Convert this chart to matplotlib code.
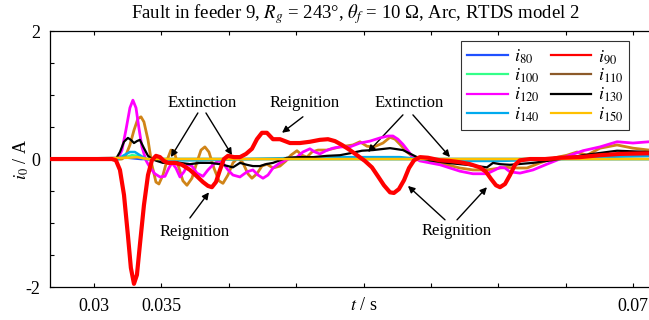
import numpy as np
import matplotlib
matplotlib.use('Agg')
import matplotlib.pyplot as plt
from matplotlib.lines import Line2D

plt.rcParams['font.family'] = ['Liberation Serif', 'DejaVu Serif']
plt.rcParams['mathtext.fontset'] = 'stix'

# zero-sequence currents of feeders 80..150, time in ms, current in A
t80_ms = [26.74, 32.5, 33.5, 71.17]
i80 = [0, 0.02, 0, 0]

t90_ms = [26.74, 31.34, 31.63, 31.93, 32.23, 32.52, 32.74, 32.97, 33.19, 33.41,
          33.71, 34.01, 34.30, 34.60, 34.90, 35.19, 35.49, 36.01, 36.53, 37.12,
          37.64, 38.09, 38.46, 38.75, 39.05, 39.35, 39.64, 39.94, 40.39, 40.83,
          41.28, 41.72, 42.09, 42.46, 42.83, 43.28, 43.80, 44.54, 45.28, 46.02,
          46.76, 47.36, 47.88, 48.40, 48.99, 49.58, 50.10, 50.62, 51.07, 51.51,
          51.96, 52.25, 52.62, 53.00, 53.37, 53.74, 54.18, 54.78, 55.67, 56.41,
          57.15, 57.89, 58.63, 59.08, 59.45, 59.82, 60.12, 60.49, 60.86, 61.23,
          61.60, 62.34, 63.46, 64.57, 66.05, 67.54, 69.02, 71.17]
i90 = [0, 0, -0.02, -0.17, -0.56, -1.19, -1.70, -1.95, -1.81, -1.34,
       -0.72, -0.25, -0.02, 0.05, 0.03, -0.03, -0.06, -0.06, -0.09, -0.17,
       -0.27, -0.36, -0.42, -0.44, -0.36, -0.17, 0, 0.05, 0.03, 0.03,
       0.08, 0.16, 0.31, 0.41, 0.41, 0.31, 0.31, 0.25, 0.25, 0.27,
       0.30, 0.31, 0.28, 0.22, 0.14, 0.05, -0.03, -0.13, -0.27, -0.41,
       -0.52, -0.53, -0.47, -0.33, -0.14, -0.02, 0.03, 0.02, -0.02, -0.03,
       -0.05, -0.08, -0.13, -0.20, -0.31, -0.41, -0.44, -0.39, -0.25, -0.09,
       -0.02, 0, 0, 0.02, 0.03, 0.06, 0.08, 0.09]

t100_ms = [26.74, 31.93, 32.37, 32.82, 33.26, 33.78, 71.17]
i100 = [0, 0, 0.03, 0.06, 0.05, 0, 0]

t110_ms = [26.74, 32.08, 32.37, 32.67, 32.97, 33.26, 33.49, 33.71, 34.01, 34.30,
           34.60, 34.82, 35.12, 35.42, 35.71, 35.93, 36.23, 36.60, 36.90, 37.27,
           37.64, 37.94, 38.23, 38.53, 38.90, 39.27, 39.57, 39.94, 40.31, 40.68,
           41.05, 41.42, 41.72, 42.09, 42.46, 42.83, 43.28, 43.80, 44.24, 44.61,
           45.06, 45.43, 45.80, 46.17, 46.62, 47.28, 48.25, 49.21, 49.73, 50.25,
           50.77, 51.44, 51.96, 52.33, 52.70, 53.22, 53.74, 54.55, 56.19, 57.15,
           58.11, 59.15, 60.12, 60.64, 61.38, 62.12, 63.08, 64.20, 65.09, 65.83,
           66.57, 67.54, 68.80, 69.98, 71.17]
i110 = [0, 0, 0.06, 0.22, 0.45, 0.63, 0.66, 0.58, 0.30, -0.09,
        -0.36, -0.39, -0.25, -0.02, 0.14, 0.13, -0.09, -0.34, -0.41, -0.30,
        -0.05, 0.14, 0.19, 0.11, -0.14, -0.34, -0.38, -0.25, -0.06, 0.02,
        -0.06, -0.23, -0.30, -0.23, -0.11, -0.08, -0.14, -0.11, -0.03, 0.06,
        0.13, 0.06, 0.03, 0.11, 0.14, 0.14, 0.19, 0.22, 0.27, 0.20,
        0.19, 0.25, 0.34, 0.31, 0.23, 0.11, 0.02, -0.03, -0.09, -0.14,
        -0.17, -0.17, -0.14, -0.13, -0.14, -0.14, -0.06, 0.02, 0.06, 0.11,
        0.06, 0.17, 0.22, 0.17, 0.14]

t120_ms = [26.74, 31.78, 32.08, 32.37, 32.67, 32.89, 33.12, 33.34, 33.56, 33.86,
           34.15, 34.52, 34.90, 35.27, 35.56, 35.79, 36.08, 36.38, 36.68, 36.97,
           37.27, 37.64, 38.09, 38.46, 38.83, 39.20, 39.57, 39.94, 40.31, 40.83,
           41.35, 41.79, 42.17, 42.54, 42.91, 43.28, 43.80, 44.39, 45.06, 45.50,
           46.02, 46.39, 46.76, 47.21, 47.73, 48.25, 48.99, 49.73, 50.47, 51.22,
           51.81, 52.18, 52.55, 52.92, 53.29, 53.66, 54.18, 54.92, 55.67, 56.41,
           57.15, 58.11, 59.15, 59.75, 60.12, 60.49, 60.86, 61.60, 62.57, 63.60,
           64.79, 66.27, 67.54, 68.80, 69.98, 71.17]
i120 = [0, 0, 0.14, 0.45, 0.80, 0.92, 0.80, 0.48, 0.19, -0.02,
        -0.13, -0.23, -0.28, -0.27, -0.14, -0.06, -0.14, -0.28, -0.20, -0.08,
        -0.11, -0.22, -0.27, -0.17, -0.09, -0.03, -0.06, -0.17, -0.25, -0.28,
        -0.20, -0.17, -0.25, -0.30, -0.25, -0.14, -0.06, 0, 0.03, 0.11,
        0.16, 0.11, 0.08, 0.13, 0.17, 0.19, 0.19, 0.25, 0.28, 0.33,
        0.36, 0.36, 0.31, 0.23, 0.13, 0.03, -0.03, -0.06, -0.09, -0.14,
        -0.19, -0.23, -0.23, -0.17, -0.13, -0.14, -0.20, -0.22, -0.17, -0.08,
        0.02, 0.13, 0.19, 0.27, 0.25, 0.27]

t130_ms = [26.74, 31.63, 31.93, 32.23, 32.52, 32.74, 32.97, 33.19, 33.41, 33.71,
           34.01, 34.30, 34.67, 35.12, 35.49, 35.86, 36.38, 37.12, 37.86, 38.61,
           39.35, 39.94, 40.31, 40.83, 41.35, 41.79, 42.31, 42.76, 43.28, 43.80,
           44.32, 45.28, 46.25, 47.28, 48.25, 48.99, 49.88, 50.70, 51.96, 52.92,
           53.96, 54.92, 56.19, 57.67, 59.15, 59.60, 60.12, 60.86, 62.57, 64.57,
           66.27, 68.80, 71.17]
i130 = [0, 0, 0.11, 0.27, 0.33, 0.30, 0.25, 0.28, 0.30, 0.17,
        0.05, 0, -0.03, -0.06, -0.05, -0.05, -0.06, -0.08, -0.06, -0.06,
        -0.08, -0.11, -0.13, -0.06, -0.09, -0.11, -0.11, -0.08, -0.06, -0.02,
        0.02, 0.03, 0.03, 0.05, 0.06, 0.09, 0.13, 0.14, 0.17, 0.14,
        0.03, -0.02, -0.06, -0.09, -0.13, -0.06, -0.08, -0.09, -0.06, 0,
        0.06, 0.13, 0.11]

t140_ms = [26.74, 31.78, 32.23, 32.67, 33.04, 33.41, 33.86, 34.90, 37.86, 41.57,
           45.28, 48.99, 52.70, 54.18, 55.67, 60.12, 64.57, 67.54, 71.17]
i140 = [0, 0, 0.06, 0.11, 0.11, 0.06, 0, -0.02, -0.02, 0,
        0.02, 0.03, 0.03, 0, -0.03, -0.03, 0, 0.03, 0.05]

t150_ms = [26.74, 32.5, 33.2, 34.0, 71.17]
i150 = [0, 0.02, 0.03, 0, 0]

names = ['$i_{80}$', '$i_{90}$', '$i_{100}$', '$i_{110}$',
         '$i_{120}$', '$i_{130}$', '$i_{140}$', '$i_{150}$']
colors = ['#1f50ff', '#ff0000', '#33ff88', '#8c5a2a',
          '#ff00ff', '#000000', '#00aaee', '#ffc000']

fig = plt.figure(figsize=(6.49, 3.2), dpi=100)
ax = fig.add_axes([0.077, 0.103, 0.923, 0.800])

s = lambda v: np.array(v) / 1000.0
ax.plot(s(t80_ms), i80, color=colors[0], lw=1.8, zorder=2)
ax.plot(s(t100_ms), i100, color=colors[2], lw=1.8, zorder=2)
ax.plot(s(t110_ms), i110, color='#d08418', lw=2.0, zorder=3)
ax.plot(s(t120_ms), i120, color=colors[4], lw=2.0, zorder=4)
ax.plot(s(t140_ms), i140, color=colors[6], lw=1.8, zorder=5)
ax.plot(s(t130_ms), i130, color=colors[5], lw=1.6, zorder=6)
ax.plot(s(t150_ms), i150, color=colors[7], lw=1.8, zorder=7)
ax.plot(s(t90_ms), i90, color=colors[1], lw=3.0, zorder=8)

ax.set_xlim(0.02674, 0.07117)
ax.set_ylim(-2, 2)
ax.set_xticks(np.arange(0.03, 0.0701, 0.005))
ax.set_xticklabels(['0.03', '0.035', '', '', '', '', '', '', '0.07'])
ax.set_yticks(np.arange(-2, 2.01, 0.5))
ax.set_yticklabels(['-2', '', '', '', '0', '', '', '', '2'])
ax.tick_params(direction='in', top=True, right=False, length=3, width=0.8,
               labelsize=13)
ax.tick_params(axis='x', pad=8)
ax.tick_params(axis='y', pad=7)
for side in ['left', 'top', 'bottom']:
    ax.spines[side].set_linewidth(0.9)
ax.spines['right'].set_visible(False)

# arc events
akw = dict(arrowstyle='-|>', color='k', lw=1.0, mutation_scale=10,
           shrinkA=0, shrinkB=0)
tkw = dict(ha='center', va='center', fontsize=12, zorder=10)
ax.text(0.03801, 0.875, 'Extinction', **tkw)
ax.annotate('', xy=(0.03571, 0.03), xytext=(0.03771, 0.72), arrowprops=akw)
ax.annotate('', xy=(0.04024, 0.06), xytext=(0.03831, 0.72), arrowprops=akw)
ax.text(0.04565, 0.875, 'Reignition', **tkw)
ax.annotate('', xy=(0.04395, 0.41), xytext=(0.04550, 0.66), arrowprops=akw)
ax.text(0.03749, -1.14, 'Reignition', **tkw)
ax.annotate('', xy=(0.03853, -0.52), xytext=(0.03712, -0.92), arrowprops=akw)
ax.text(0.05337, 0.875, 'Extinction', **tkw)
ax.annotate('', xy=(0.05033, 0.11), xytext=(0.05292, 0.69), arrowprops=akw)
ax.annotate('', xy=(0.05641, 0.03), xytext=(0.05366, 0.69), arrowprops=akw)
ax.text(0.05693, -1.125, 'Reignition', **tkw)
ax.annotate('', xy=(0.05329, -0.42), xytext=(0.05604, -0.95), arrowprops=akw)
ax.annotate('', xy=(0.05915, -0.44), xytext=(0.05693, -0.95), arrowprops=akw)

order = [0, 2, 4, 6, 1, 3, 5, 7]
handles = [Line2D([], [], color=colors[k], lw=1.6) for k in order]
leg = fig.legend(handles, [names[k] for k in order], ncol=2,
                 loc='upper left', bbox_to_anchor=(461 / 649, 1 - 41 / 320),
                 borderaxespad=0, fontsize=13, frameon=True, fancybox=False,
                 handlelength=2.25, handletextpad=0.35, columnspacing=0.6,
                 labelspacing=0.05, borderpad=0.35)
leg.get_frame().set_edgecolor('black')
leg.get_frame().set_linewidth(0.8)

fig.text(355 / 649, 1 - 14 / 320,
         r'Fault in feeder 9, $R_g$ = 243°, $\theta_f$ = 10 Ω, Arc, RTDS model 2',
         ha='center', va='center', fontsize=13.5)
fig.text(364 / 649, 1 - 306 / 320, r'$t$ / s', ha='center', va='center', fontsize=13)
fig.text(21 / 649, 1 - 160 / 320, r'$i_0$ / A', ha='center', va='center',
         rotation=90, fontsize=13)

fig.savefig('out.png', dpi=100)
